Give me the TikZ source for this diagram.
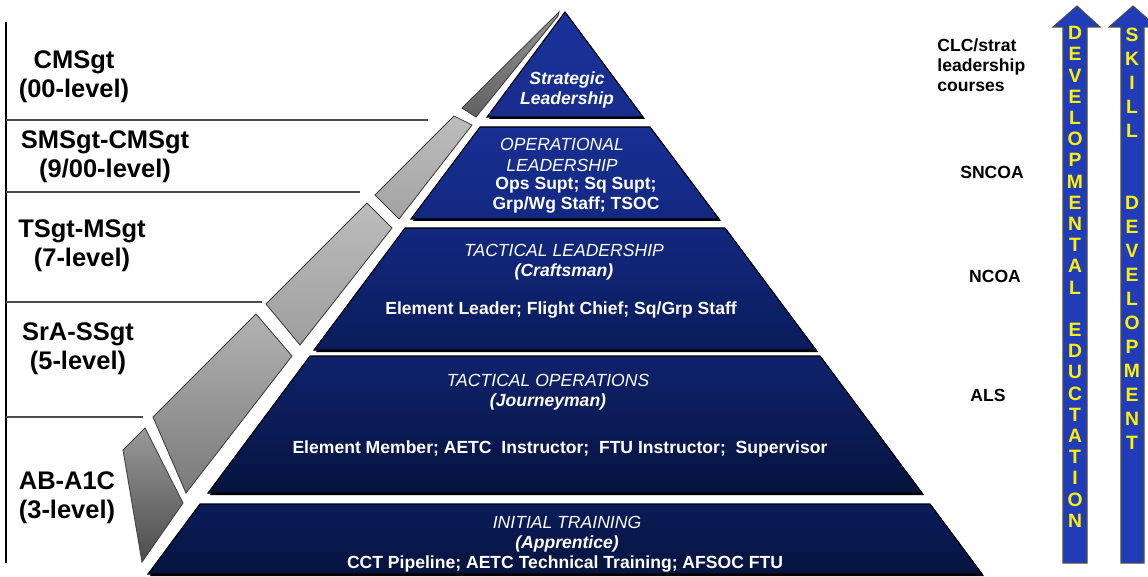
\documentclass[tikz,border=0pt]{standalone}
\usepackage{fontspec}
\setmainfont{Liberation Sans}
\usepackage{xcolor}
\usepackage{tikz}

\definecolor{arrowblue}{RGB}{32,60,185}
\definecolor{navytop}{RGB}{26,50,155}
\definecolor{navymid}{RGB}{18,40,128}
\definecolor{navylow}{RGB}{10,28,90}
\definecolor{navybot}{RGB}{6,20,62}

\tikzset{
  rank/.style={font=\fontsize{14.5}{16.6}\selectfont\bfseries, align=center, inner sep=0pt},
  tierhead/.style={text=white, font=\fontsize{10}{11.6}\selectfont\itshape, align=center, inner sep=0pt},
  tierbody/.style={text=white, font=\fontsize{10}{11.4}\selectfont\bfseries, align=center, inner sep=0pt},
  course/.style={font=\fontsize{10}{11.4}\selectfont\bfseries, inner sep=0pt},
  letterbox/.style={text=yellow, font=\fontsize{11}{11}\selectfont\bfseries, inner sep=0pt},
  segment/.style={draw=black!75, line width=0.5pt},
  tier/.style={draw=black, line width=0.6pt},
}

\begin{document}
\begin{tikzpicture}[x=0.02cm, y=-0.02cm]
        \useasboundingbox (0,0) rectangle (1148,577);

        % rank lines
        \draw[black, line width=0.8pt] (6,22) -- (6,563);
        \draw[black!70, line width=0.7pt] (6,120) -- (428,120);
        \draw[black!70, line width=0.7pt] (6,192) -- (360,192);
        \draw[black!70, line width=0.7pt] (6,302) -- (262,302);
        \draw[black!70, line width=0.7pt] (6,417) -- (143,417);

        % ranks
        \node[rank] (cmsgt) at (74,77) {CMSgt\\(00-level)};
        \node[rank] (smsgt) at (105,157) {SMSgt-CMSgt\\(9/00-level)};
        \node[rank] (tsgt) at (82,246) {TSgt-MSgt\\(7-level)};
        \node[rank] (sra) at (78,349) {SrA-SSgt\\(5-level)};
        \node[rank] (ab) at (67,498) {AB-A1C\\(3-level)};

        % gray side
        \shade[segment, top color=black!42, bottom color=black!62] (559,12) -- (462,108) -- (476,117) -- (558,16) -- cycle;
        \shade[segment, top color=black!26, bottom color=black!36] (454,116) -- (375,195) -- (399,219) -- (472,125) -- cycle;
        \shade[segment, top color=black!26, bottom color=black!38] (367,203) -- (266,304) -- (300,345) -- (392,228) -- cycle;
        \shade[segment, top color=black!30, bottom color=black!52] (256,314) -- (153,417) -- (186,493) -- (292,356) -- cycle;
        \shade[segment, top color=black!40, bottom color=black!70] (145,428) -- (123,450) -- (142,562) -- (183,503) -- cycle;

        % tiers, shadow first
        \fill[black, shift={(2,2)}] (565,12) -- (487,117) -- (643,117) -- cycle;
        \shade[tier, top color=navytop, bottom color=navytop!90!black] (565,12) -- (487,117) -- (643,117) -- cycle;
        \fill[black, shift={(2,2)}] (480,127) -- (411,219) -- (719,219) -- (650,127) -- cycle;
        \shade[tier, top color=navytop!95!black, bottom color=navymid] (480,127) -- (411,219) -- (719,219) -- (650,127) -- cycle;
        \fill[black, shift={(2,2)}] (405,228) -- (314,350) -- (816,350) -- (725,228) -- cycle;
        \shade[tier, top color=navymid, bottom color=navylow] (405,228) -- (314,350) -- (816,350) -- (725,228) -- cycle;
        \fill[black, shift={(2,2)}] (310,356) -- (208,493) -- (922,493) -- (820,356) -- cycle;
        \shade[tier, top color=navymid!85!black, bottom color=navybot] (310,356) -- (208,493) -- (922,493) -- (820,356) -- cycle;
        \fill[black, shift={(2,2)}] (200,504) -- (148,574) -- (982,574) -- (930,504) -- cycle;
        \shade[tier, top color=navylow, bottom color=navybot] (200,504) -- (148,574) -- (982,574) -- (930,504) -- cycle;

        % tier texts
        \node[tierhead, font=\fontsize{10}{11.9}\selectfont\bfseries\itshape] (strat) at (567,90) {Strategic\\Leadership};
        \node[tierhead] (operhead) at (562,155) {OPERATIONAL\\LEADERSHIP};
        \node[tierbody] (operbody) at (576,195) {Ops Supt; Sq Supt;\\Grp/Wg Staff; TSOC};
        \node[tierhead] (taclhead) at (564,262) {TACTICAL LEADERSHIP\\\bfseries (Craftsman)};
        \node[tierbody] (taclbody) at (561,310) {Element Leader; Flight Chief; Sq/Grp Staff};
        \node[tierhead] (tacohead) at (548,392) {TACTICAL OPERATIONS\\\bfseries (Journeyman)};
        \node[tierbody] (tacobody) at (560,449) {Element Member; AETC\ \ Instructor;\ \ FTU Instructor;\ \ Supervisor};
        \node[tierhead] (inithead) at (567,534) {INITIAL TRAINING\\\bfseries (Apprentice)};
        \node[tierbody] (initbody) at (565,564) {CCT Pipeline; AETC Technical Training; AFSOC FTU};

        % courses
        \node[course, anchor=west, align=left] (clc) at (937,65) {CLC/strat\\leadership\\courses};
        \node[course] (sncoa) at (992,172) {SNCOA};
        \node[course] (ncoa) at (995,276) {NCOA};
        \node[course] (als) at (988,395) {ALS};

        % arrows
        \draw[fill=arrowblue, draw=black!70, line width=0.6pt] (1063,563) -- (1063,27) -- (1053,27) -- (1077,6) -- (1100,27) -- (1087,27) -- (1087,563) -- cycle;
        \draw[fill=arrowblue, draw=black!70, line width=0.6pt] (1121,563) -- (1121,27) -- (1109,27) -- (1133,6) -- (1157,27) -- (1144,27) -- (1144,563) -- cycle;
        \foreach \c [count=\i] in {D,E,V,E,L,O,P,M,E,N,T,A,L}
            \node[letterbox] (dev\i) at (1075,33+21.2*\i-21.2) {\c};
        \foreach \c [count=\i from 15] in {E,D,U,C,T,A,T,I,O,N}
            \node[letterbox] (dev\i) at (1075,33+21.2*\i-21.2) {\c};
        \foreach \c [count=\i] in {S,K,I,L,L}
            \node[letterbox] (skill\i) at (1132,35+24*\i-24) {\c};
        \foreach \c [count=\i from 8] in {D,E,V,E,L,O,P,M,E,N,T}
            \node[letterbox] (skill\i) at (1132,35+24*\i-24) {\c};
    \end{tikzpicture}
\end{document}
